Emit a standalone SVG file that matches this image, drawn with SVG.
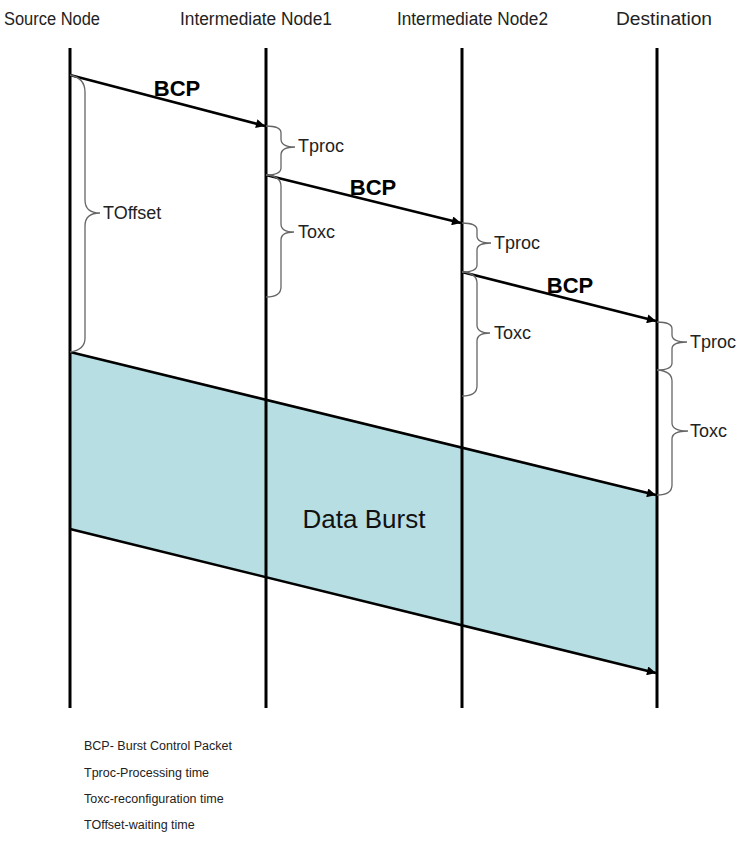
<svg xmlns="http://www.w3.org/2000/svg" width="743" height="847" viewBox="0 0 743 847">
<style>
  .hdr { font-family: "Liberation Sans", Arial, sans-serif; font-size: 18px; fill: #222; }
  .lbl { font-family: "Liberation Sans", Arial, sans-serif; font-size: 18px; fill: #222; }
  .bcp { font-family: "Liberation Sans", Arial, sans-serif; font-size: 22px; font-weight: bold; fill: #000; }
  .leg { font-family: "Liberation Sans", Arial, sans-serif; font-size: 12.5px; fill: #222; }
  .big { font-family: "Liberation Sans", Arial, sans-serif; font-size: 26px; fill: #111; }
  .life { stroke: #000; stroke-width: 3; fill: none; }
  .msg { stroke: #000; stroke-width: 2.5; fill: none; }
  .brace { stroke: #666; stroke-width: 1.3; fill: none; }
</style>
<defs>
  <marker id="ah" viewBox="0 0 10 10" refX="10" refY="5" markerWidth="4" markerHeight="3.6" orient="auto" markerUnits="strokeWidth">
    <path d="M0,0 L10,5 L0,10 z" fill="#000"/>
  </marker>
</defs>
<rect width="743" height="847" fill="#fff"/>

<g id="burst">
  <polygon points="70,352 657,495 657,673 70,529" fill="#b7dee2"/>
</g>

<g id="source-node">
  <text class="hdr" x="4" y="25" textLength="96" lengthAdjust="spacingAndGlyphs">Source Node</text>
  <line class="life" x1="70" y1="48" x2="70" y2="708"/>
</g>
<g id="intermediate-node1">
  <text class="hdr" x="180" y="25" textLength="152" lengthAdjust="spacingAndGlyphs">Intermediate Node1</text>
  <line class="life" x1="266" y1="48" x2="266" y2="708"/>
</g>
<g id="intermediate-node2">
  <text class="hdr" x="397" y="25" textLength="151" lengthAdjust="spacingAndGlyphs">Intermediate Node2</text>
  <line class="life" x1="462" y1="48" x2="462" y2="708"/>
</g>
<g id="destination">
  <text class="hdr" x="616" y="25" textLength="96" lengthAdjust="spacingAndGlyphs">Destination</text>
  <line class="life" x1="657" y1="48" x2="657" y2="708"/>
</g>

<g id="connectors">
  <line class="msg" x1="70" y1="75" x2="265" y2="126" marker-end="url(#ah)"/>
  <line class="msg" x1="266" y1="175" x2="461" y2="223" marker-end="url(#ah)"/>
  <line class="msg" x1="462" y1="272" x2="656" y2="321" marker-end="url(#ah)"/>
  <line class="msg" x1="70" y1="352" x2="656" y2="495" marker-end="url(#ah)"/>
  <line class="msg" x1="70" y1="529" x2="656" y2="673" marker-end="url(#ah)"/>
</g>

<g id="bcp-labels">
  <text class="bcp" x="177" y="96" text-anchor="middle">BCP</text>
  <text class="bcp" x="373" y="195" text-anchor="middle">BCP</text>
  <text class="bcp" x="570" y="293" text-anchor="middle">BCP</text>
</g>

<g id="toffset">
  <path class="brace" d="M70,75 Q85,78 85,92 L85,200 Q85,213 100,213 Q85,213 85,226 L85,338 Q85,350 70,352"/>
  <text class="lbl" x="103" y="219">TOffset</text>
</g>
<g id="tproc1">
  <path class="brace" d="M266,126 Q281,126 281,133 L281,139 Q281,147 295,147 Q281,147 281,155 L281,168 Q281,175 266,175" stroke="#333"/>
  <text class="lbl" x="298" y="152">Tproc</text>
</g>
<g id="toxc1">
  <path class="brace" d="M266,175 Q281,176 281,186 L281,224 Q281,232 294,232 Q281,232 281,240 L281,287 Q281,297 266,297"/>
  <text class="lbl" x="298" y="238">Toxc</text>
</g>
<g id="tproc2">
  <path class="brace" d="M462,223 Q477,223 477,230 L477,236 Q477,243 491,243 Q477,243 477,250 L477,265 Q477,272 462,272" stroke="#333"/>
  <text class="lbl" x="494" y="249">Tproc</text>
</g>
<g id="toxc2">
  <path class="brace" d="M462,272 Q477,273 477,283 L477,325 Q477,333 490,333 Q477,333 477,341 L477,386 Q477,396 462,396"/>
  <text class="lbl" x="494" y="339">Toxc</text>
</g>
<g id="tproc3">
  <path class="brace" d="M657,322 Q672,322 672,329 L672,335 Q672,342 687,342 Q672,342 672,349 L672,363 Q672,370 657,370" stroke="#333"/>
  <text class="lbl" x="690" y="348">Tproc</text>
</g>
<g id="toxc3">
  <path class="brace" d="M657,370 Q672,371 672,381 L672,423 Q672,431 688,431 Q672,431 672,439 L672,485 Q672,495 657,495"/>
  <text class="lbl" x="690" y="437">Toxc</text>
</g>

<text class="big" x="364" y="528" text-anchor="middle">Data Burst</text>

<g id="legend">
  <text class="leg" x="84" y="750">BCP- Burst Control Packet</text>
  <text class="leg" x="84" y="777">Tproc-Processing time</text>
  <text class="leg" x="84" y="803">Toxc-reconfiguration time</text>
  <text class="leg" x="84" y="829">TOffset-waiting time</text>
</g>
</svg>
